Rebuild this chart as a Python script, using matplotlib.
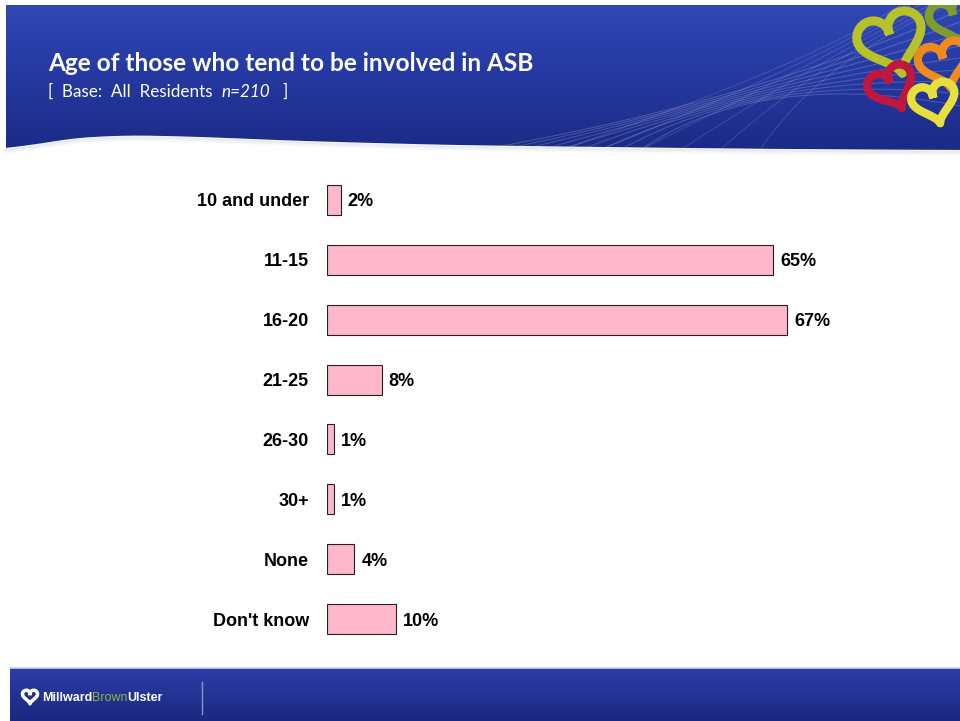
import numpy as np
import matplotlib.pyplot as plt
from matplotlib.path import Path
from matplotlib.patches import PathPatch
from matplotlib.colors import LinearSegmentedColormap

categories = ["10 and under", "11-15", "16-20", "21-25", "26-30", "30+", "None", "Don't know"]
values = [2, 65, 67, 8, 1, 1, 4, 10]

title = "Age of those who tend to be involved in ASB"

W, H = 960, 721
fig = plt.figure(figsize=(9.6, 7.21), dpi=100)

# background layer in pixel coordinates for the slide decoration
bg = fig.add_axes([0, 0, 1, 1])
bg.set_xlim(0, W)
bg.set_ylim(H, 0)
bg.axis("off")

# header band with wavy lower edge
wx = np.array([6, 40, 100, 180, 300, 450, 600, 780, 960])
wy = np.array([151, 142, 135, 136, 141, 145, 147, 149, 150])
xs = np.linspace(6, 960, 200)
ys = np.interp(xs, wx, wy)
ys = np.convolve(np.pad(ys, 10, mode="edge"), np.ones(21) / 21, mode="valid")
verts = [(6, 5), (960, 5)] + list(zip(xs[::-1], ys[::-1])) + [(6, 5)]
clip = PathPatch(Path(verts), transform=bg.transData, facecolor="none", edgecolor="none")
bg.add_patch(clip)
grad = np.linspace(0, 1, 256).reshape(-1, 1)
cmap_head = LinearSegmentedColormap.from_list("h", ["#3047b4", "#2438a0", "#1b2a85"])
im = bg.imshow(grad, extent=[6, 960, 152, 5], cmap=cmap_head, aspect="auto", zorder=1)
im.set_clip_path(clip)

# soft shadow under the wave
for k, a in enumerate([0.12, 0.07, 0.04]):
    bg.plot(xs, ys + 1.5 + 1.5 * k, color="#8090b0", alpha=a, lw=2, zorder=1)

# faint sweeping lines in the header
t = np.linspace(0, 1, 100)


def bezier(p0, p1, p2):
    cx = (1 - t) ** 2 * p0[0] + 2 * (1 - t) * t * p1[0] + t ** 2 * p2[0]
    cy = (1 - t) ** 2 * p0[1] + 2 * (1 - t) * t * p1[1] + t ** 2 * p2[1]
    return cx, cy


for i in range(9):
    cx, cy = bezier((480 + 20 * i, 150), (760, 100 - 4 * i), (960, 10 + 12 * i))
    ln, = bg.plot(cx, cy, color="white", alpha=0.18, lw=0.8, zorder=2)
    ln.set_clip_path(clip)
for i in range(6):
    cx, cy = bezier((560 + 40 * i, 150), (820, 60), (900 + 10 * i, 5))
    ln, = bg.plot(cx, cy, color="white", alpha=0.12, lw=0.8, zorder=2)
    ln.set_clip_path(clip)


def heart(cx, cy, size, angle, color, lw, clipped=True):
    s = np.linspace(0, 2 * np.pi, 120)
    hx = 16 * np.sin(s) ** 3
    hy = 13 * np.cos(s) - 5 * np.cos(2 * s) - 2 * np.cos(3 * s) - np.cos(4 * s)
    hx, hy = hx / 32 * size, -(hy + 2.5) / 32 * size
    r = np.deg2rad(angle)
    rx = cx + hx * np.cos(r) - hy * np.sin(r)
    ry = cy + hx * np.sin(r) + hy * np.cos(r)
    ln, = bg.plot(rx, ry, color=color, lw=lw, zorder=3, solid_joinstyle="round")
    if clipped:
        ln.set_clip_path(clip)


# logo hearts in the top right corner
heart(955, 22, 48, -15, "#7e9d2c", 6)
heart(893, 45, 66, -18, "#b7c22b", 6.5)
heart(945, 66, 50, -15, "#ef8a1f", 6)
heart(893, 89, 46, -25, "#c0173f", 6)
heart(935, 104, 44, -15, "#e6df3c", 6)


def text_run(x, y, parts, **kw):
    # draw text pieces one after another on the same baseline
    fig.canvas.draw()
    r = fig.canvas.get_renderer()
    for s, extra in parts:
        props = dict(kw)
        props.update(extra)
        txt = fig.text(x / W, 1 - y / H, s, va="baseline", ha="left", **props)
        x = txt.get_window_extent(renderer=r).x1


fig.text(48 / W, 1 - 71 / H, title, color="white", fontsize=17.6, fontweight="bold",
         family="Lato", va="baseline", ha="left")
text_run(48, 97, [("[  Base:  All  Residents  ", {}), ("n=210", {"style": "italic"}), ("   ]", {})],
         color="white", fontsize=12.3, family="Lato")

# footer band
cmap_foot = LinearSegmentedColormap.from_list("f", ["#2c3ea8", "#1a2880"])
bg.imshow(grad, extent=[10, 960, 721, 668], cmap=cmap_foot, aspect="auto", zorder=1)
bg.plot([10, 960], [668, 668], color="#c8d0ec", lw=1.2, zorder=2)
bg.plot([202, 202], [682, 714], color="#8a96c8", lw=1, zorder=2)
heart(30, 697, 15, 0, "white", 2.5, clipped=False)
text_run(42, 701, [("Millward", {"fontweight": "bold"}),
                   ("Brown", {"color": "#8db43a"}),
                   ("Ulster", {"fontweight": "bold"})],
         color="white", fontsize=9, family="Liberation Sans")

# bar chart
px_per_pct = 6.866
xmax = 90
ax = fig.add_axes([327 / W, 1 - 649 / H, xmax * px_per_pct / W, 479 / H])
ax.patch.set_alpha(0)
y = np.arange(len(categories))
ax.barh(y, values, height=0.5, color="#ffb7cb", edgecolor="#222222", linewidth=0.8)
ax.set_xlim(0, xmax)
ax.set_ylim(len(categories) - 0.5, -0.5)
ax.set_yticks(y)
ax.set_yticklabels(categories, fontsize=13, fontweight="bold", family="Liberation Sans")
ax.tick_params(axis="y", length=0, pad=13)
ax.set_xticks([])
for s in ax.spines.values():
    s.set_visible(False)
for yi, v in zip(y, values):
    ax.annotate(f"{v}%", (v, yi), xytext=(5, 0), textcoords="offset points",
                va="center_baseline", ha="left", fontsize=13, fontweight="bold",
                family="Liberation Sans")

fig.savefig("out.png", dpi=100)
